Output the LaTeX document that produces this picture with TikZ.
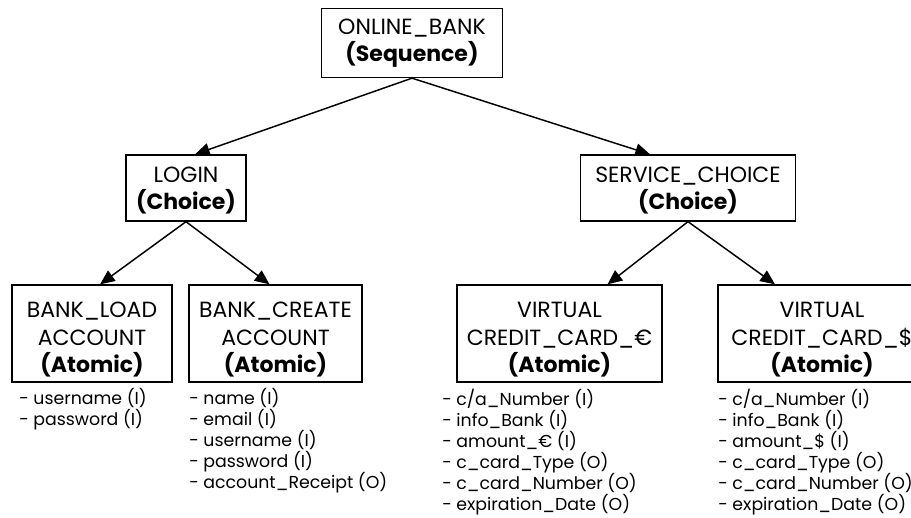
\documentclass[tikz,border=0pt]{standalone}
\usepackage{fontspec}
\setmainfont{Poppins}
\usetikzlibrary{arrows.meta,calc}

\newcommand{\toppad}{\rule{0pt}{21pt}}

\tikzset{
  box/.style={draw, line width=1pt, align=center, inner sep=0pt,
    font=\fontsize{16.5}{20.5}\selectfont},
  attr/.style={anchor=north west, align=left, inner sep=0pt,
    font=\fontsize{13}{15.8}\selectfont},
  link/.style={line width=1.1pt, -{Triangle[length=11pt,width=9.5pt]}}
}

\begin{document}
\begin{tikzpicture}[x=0.75pt,y=0.75pt,yscale=-1,xscale=1]
\useasboundingbox (0,0) rectangle (911,518);
\clip (0,0) rectangle (911,518);

%Shape: Rectangle [root]
\node[box, minimum width=181*0.75, minimum height=69*0.75] (bank) at (412,43) {ONLINE\_BANK\\ \textbf{(Sequence)}};

%Shape: Rectangle [second level]
\node[box, minimum width=120*0.75, minimum height=66*0.75] (login) at (186,188) {\rule{0pt}{15pt}LOGIN\\ \textbf{(Choice)}};
\node[box, minimum width=215*0.75, minimum height=66*0.75] (svc) at (688,188) {\rule{0pt}{15pt}SERVICE\_CHOICE\\ \textbf{(Choice)}};

%Shape: Rectangle [leaves]
\node[box, minimum width=160*0.75, minimum height=97*0.75] (load) at (92,333.5) {\toppad BANK\_LOAD\\ ACCOUNT\\ \textbf{(Atomic)}};
\node[box, minimum width=173*0.75, minimum height=97*0.75] (create) at (275.5,333.5) {\toppad BANK\_CREATE\\ ACCOUNT\\ \textbf{(Atomic)}};
\node[box, minimum width=205*0.75, minimum height=97*0.75] (veur) at (559.5,333.5) {\toppad VIRTUAL\\ CREDIT\_CARD\_€\\ \textbf{(Atomic)}};
\node[box, minimum width=208*0.75, minimum height=97*0.75] (vusd) at (822,333.5) {\toppad VIRTUAL\\ CREDIT\_CARD\_\$\\ \textbf{(Atomic)}};

%Straight Lines
\draw[link] (bank.south) -- ($(login.north)+(9,0)$);
\draw[link] (bank.south) -- ($(svc.north)+(-38,0)$);
\draw[link] (login.south) -- ($(load.north)+(8,0)$);
\draw[link] (login.south) -- ($(create.north)+(-6,0)$);
\draw[link] (svc.south) -- ($(veur.north)+(48,0)$);
\draw[link] (svc.south) -- ($(vusd.north)+(-47,0)$);

% Text Node
\node[attr] (loadin) at (19,388) {- username (I)\\ - password (I)};
% Text Node
\node[attr] (createin) at (189,388) {- name (I)\\ - email (I)\\ - username (I)\\ - password (I)\\ - account\_Receipt (O)};
% Text Node
\node[attr] (veurin) at (442,389) {- c/a\_Number (I)\\ - info\_Bank (I)\\ - amount\_€ (I)\\ - c\_card\_Type (O)\\ - c\_card\_Number (O)\\ - expiration\_Date (O)};
% Text Node
\node[attr] (vusdin) at (718,389) {- c/a\_Number (I)\\ - info\_Bank (I)\\ - amount\_\$ (I)\\ - c\_card\_Type (O)\\ - c\_card\_Number (O)\\ - expiration\_Date (O)};

\end{tikzpicture}
\end{document}
